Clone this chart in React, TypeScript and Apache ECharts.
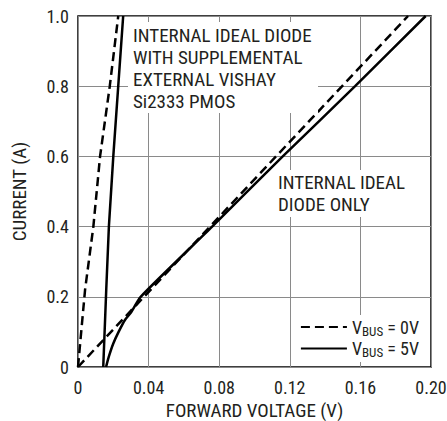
import React, { useEffect, useRef } from "react";
import * as echarts from "echarts";

const xTicks = [0, 0.04, 0.08, 0.12, 0.16, 0.2];
const yTicks = [0, 0.2, 0.4, 0.6, 0.8, 1.0];

// Vbus = 0V, with supplemental external PMOS (steep dashed)
const pmos0V_x = [0, 0.004, 0.0087, 0.0125, 0.018, 0.0228];
const pmos0V_y = [0, 0.22, 0.4, 0.6, 0.8, 1.0];
// Vbus = 5V, with supplemental external PMOS (steep solid)
const pmos5V_x = [0.0143, 0.016, 0.0175, 0.02, 0.0228, 0.0256];
const pmos5V_y = [0, 0.22, 0.4, 0.6, 0.8, 1.0];
// Vbus = 0V, internal ideal diode only (shallow dashed)
const int0V_x = [0, 0.187];
const int0V_y = [0, 1.0];
// Vbus = 5V, internal ideal diode only (shallow solid)
const int5V_x = [0.0159, 0.0175, 0.02, 0.023, 0.0266, 0.03, 0.0355, 0.076, 0.116, 0.157, 0.197];
const int5V_y = [0, 0.03, 0.067, 0.1, 0.134, 0.155, 0.2, 0.4, 0.6, 0.8, 1.0];

const legendNames = ["VBUS = 0V", "VBUS = 5V"];
const annotation1 = ["INTERNAL IDEAL DIODE", "WITH SUPPLEMENTAL", "EXTERNAL VISHAY", "Si2333 PMOS"];
const annotation2 = ["INTERNAL IDEAL", "DIODE ONLY"];

const FONT = "'Liberation Sans Narrow', 'Roboto Condensed', Arial, sans-serif";
const TXT = "#231f20";

const zip = (xs: number[], ys: number[]) => xs.map((x, i) => [x, ys[i]]);

export default function App() {
  const ref = useRef<HTMLDivElement>(null);
  useEffect(() => {
    if (!ref.current) return;
    document.body.style.margin = "0";
    const chart = echarts.init(ref.current, undefined, { renderer: "svg" });
    const lineBase = { type: "line", showSymbol: false, symbol: "none", z: 3 } as any;
    chart.setOption({
      animation: false,
      backgroundColor: "#fff",
      textStyle: { fontFamily: FONT },
      grid: {
        left: 78,
        top: 16,
        right: 16,
        bottom: 54,
        outerBoundsMode: "none",
        containLabel: false,
        show: true,
        borderColor: "#000",
        borderWidth: 1.5,
      },
      xAxis: {
        type: "value",
        min: 0,
        max: 0.2,
        interval: 0.04,
        name: "FORWARD VOLTAGE (V)",
        nameLocation: "middle",
        nameGap: 33,
        nameTextStyle: { fontFamily: FONT, fontSize: 19, color: TXT },
        axisLine: { show: false },
        axisTick: { show: false },
        axisLabel: {
          fontFamily: FONT,
          fontSize: 18,
          color: TXT,
          margin: 11,
          formatter: (v: number) => (v === 0 ? "0" : v.toFixed(2)),
        },
        splitLine: { show: true, lineStyle: { color: "#8a8a8a", width: 1 } },
      },
      yAxis: {
        type: "value",
        min: 0,
        max: 1,
        interval: 0.2,
        name: "CURRENT (A)",
        nameLocation: "middle",
        nameGap: 49,
        nameRotate: 90,
        nameTextStyle: { fontFamily: FONT, fontSize: 19, color: TXT },
        axisLine: { show: false },
        axisTick: { show: false },
        axisLabel: {
          fontFamily: FONT,
          fontSize: 18,
          color: TXT,
          margin: 9,
          formatter: (v: number) => (v === 0 ? "0" : v.toFixed(1)),
        },
        splitLine: { show: true, lineStyle: { color: "#8a8a8a", width: 1 } },
      },
      legend: {
        data: legendNames,
        orient: "vertical",
        right: 25,
        top: 315,
        itemWidth: 46,
        itemHeight: 14,
        itemGap: 2,
        padding: [3, 3, 3, 3],
        backgroundColor: "#fff",
        z: 20,
        itemStyle: { opacity: 0 },
        formatter: (name: string) => {
          const rest = name.replace("VBUS", "");
          return "{a|V}{b|BUS}{a|" + rest + "}";
        },
        textStyle: {
          fontFamily: FONT,
          color: TXT,
          rich: {
            a: { fontFamily: FONT, fontSize: 18, color: TXT },
            b: { fontFamily: FONT, fontSize: 13, color: TXT, padding: [8, 0, 0, 0] },
          },
        },
      },
      series: [
        {
          ...lineBase,
          name: legendNames[0],
          data: zip(pmos0V_x, pmos0V_y),
          lineStyle: { color: "#000", width: 2.5, type: [9, 5] },
          itemStyle: { color: "#000" },
        },
        {
          ...lineBase,
          name: legendNames[1],
          data: zip(pmos5V_x, pmos5V_y),
          lineStyle: { color: "#000", width: 2.5, type: "solid" },
          itemStyle: { color: "#000" },
        },
        {
          ...lineBase,
          name: legendNames[0],
          data: zip(int0V_x, int0V_y),
          lineStyle: { color: "#000", width: 2.5, type: [9, 5] },
          itemStyle: { color: "#000" },
        },
        {
          ...lineBase,
          name: legendNames[1],
          data: zip(int5V_x, int5V_y),
          smooth: 0.2,
          lineStyle: { color: "#000", width: 2.5, type: "solid" },
          itemStyle: { color: "#000" },
        },
      ],
      graphic: [
        { type: "rect", z: 10, shape: { x: 128, y: 22, width: 190, height: 91 }, style: { fill: "#fff" } },
        {
          type: "text",
          z: 11,
          x: 133,
          y: 24,
          style: {
            text: annotation1.join("\n"),
            fontFamily: FONT,
            fontSize: 19,
            lineHeight: 22,
            fill: TXT,
            textVerticalAlign: "top",
          },
        },
        { type: "rect", z: 10, shape: { x: 274, y: 170, width: 140, height: 47 }, style: { fill: "#fff" } },
        {
          type: "text",
          z: 11,
          x: 278,
          y: 171,
          style: {
            text: annotation2.join("\n"),
            fontFamily: FONT,
            fontSize: 19,
            lineHeight: 22,
            fill: TXT,
            textVerticalAlign: "top",
          },
        },
      ],
    });
    return () => chart.dispose();
  }, []);
  return <div ref={ref} style={{ width: 447, height: 421 }} />;
}
